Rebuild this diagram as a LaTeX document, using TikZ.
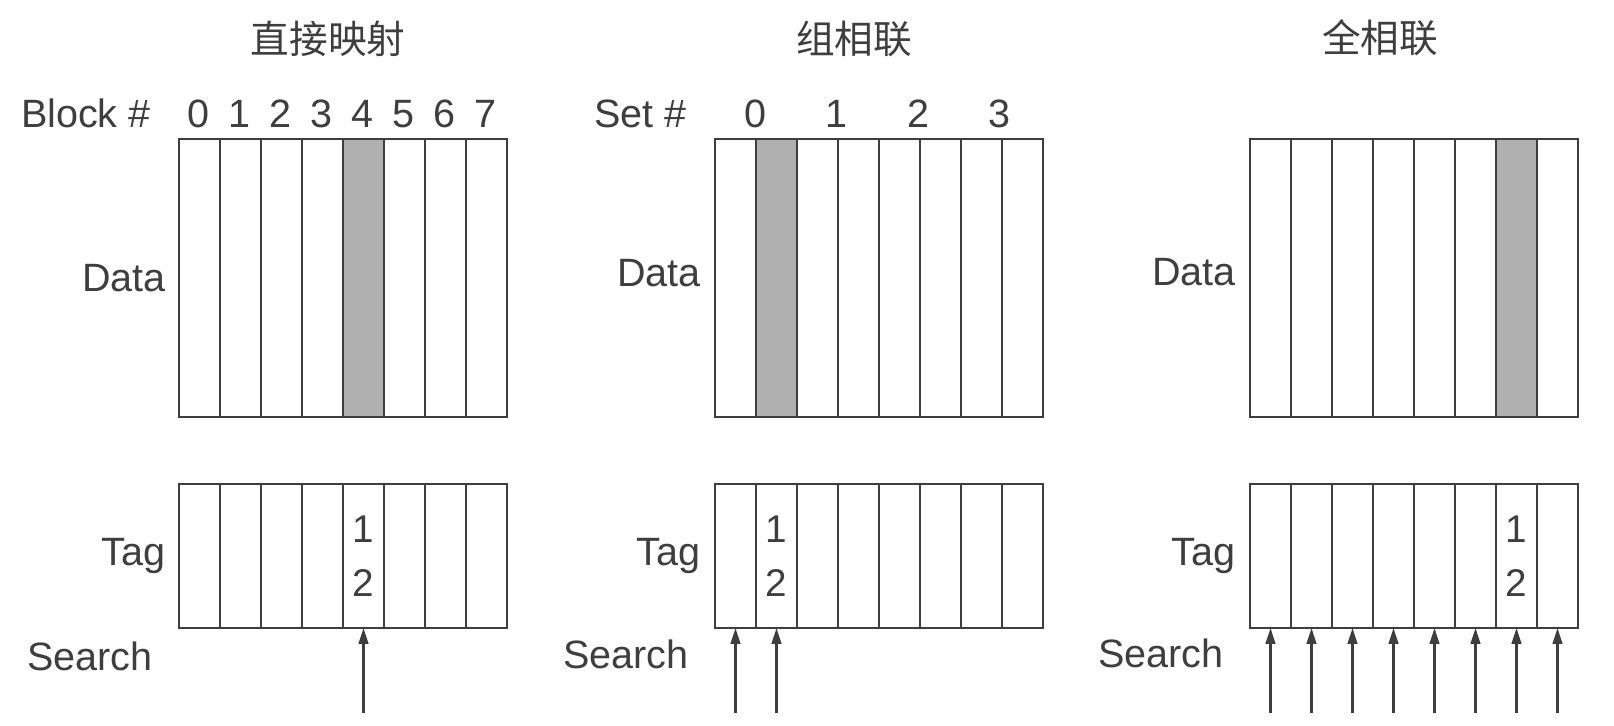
\documentclass[tikz,border=0pt]{standalone}
\usepackage{fontspec}
\setmainfont{Liberation Sans}
\newfontfamily\cjk{Noto Sans CJK SC}
\usepackage{tikz}
\usetikzlibrary{arrows.meta, positioning}
\definecolor{ink}{RGB}{62, 62, 62}
\definecolor{hitgray}{RGB}{176, 176, 176}

\begin{document}
\begin{tikzpicture}[
    x=0.02cm, y=-0.02cm,
    cell/.style={rectangle, draw=ink, line width=1.3pt, outer sep=0pt, inner sep=0pt, minimum width=0.82cm},
    datacell/.style={cell, minimum height=5.56cm},
    tagcell/.style={cell, minimum height=2.88cm, text=ink, align=center, font=\fontsize{22}{31}\selectfont},
    hit/.style={fill=hitgray},
    rowlabel/.style={text=ink, inner sep=0pt, font=\fontsize{22.5}{26}\selectfont},
    headtitle/.style={text=ink, inner sep=0pt, font=\cjk\fontsize{22}{26}\selectfont},
    searcharrow/.style={-{Triangle[length=9pt, width=5.5pt]}, draw=ink, line width=1.2pt}
]
\useasboundingbox (0,0) rectangle (1614,725);

% direct mapped
\node[headtitle] (Lh) at (328,39) {直接映射};
\node[rowlabel, anchor=base east] (Lblk) at (151,127) {Block \#};
\foreach \i in {0,...,7} {
  \node[datacell] (Ld\i) at (199.5+41*\i,278) {};
  \node[tagcell] (Lt\i) at (199.5+41*\i,556) {};
  \node[rowlabel, anchor=base] (Lb\i) at (198+41*\i,127) {\i};
}
\node[datacell, hit] at (Ld4) {};
\node[tagcell] at (Lt4) {1\\2};
\node[rowlabel, left=0.26cm of Ld0.west] (Ldata) {Data};
\node[rowlabel, left=0.26cm of Lt0.west] (Ltag) {Tag};
\node[rowlabel, anchor=base east] (Ls) at (153,670) {Search};
\coordinate (La4) at (Lt4.south |- 0,713);
\draw[searcharrow] (La4) -- (Lt4.south);

% set associative
\node[headtitle] (Mh) at (854,39) {组相联};
\node[rowlabel, anchor=base east] (Mset) at (687,127) {Set \#};
\foreach \i in {0,...,7} {
  \node[datacell] (Md\i) at (735.5+41*\i,278) {};
  \node[tagcell] (Mt\i) at (735.5+41*\i,556) {};
}
\foreach \k in {0,...,3}
  \node[rowlabel, anchor=base] (Mb\k) at (755+81.5*\k,127) {\k};
\node[datacell, hit] at (Md1) {};
\node[tagcell] at (Mt1) {1\\2};
\node[rowlabel, left=0.28cm of Md0.west, yshift=0.1cm] (Mdata) {Data};
\node[rowlabel, left=0.28cm of Mt0.west] (Mtag) {Tag};
\node[rowlabel, anchor=base east] (Ms) at (689,668) {Search};
\foreach \i in {0,1} {
  \coordinate (Ma\i) at (Mt\i.south |- 0,713);
  \draw[searcharrow] (Ma\i) -- (Mt\i.south);
}

% fully associative
\node[headtitle] (Rh) at (1380,38) {全相联};
\foreach \i in {0,...,7} {
  \node[datacell] (Rd\i) at (1270.5+41*\i,278) {};
  \node[tagcell] (Rt\i) at (1270.5+41*\i,556) {};
  \coordinate (Ra\i) at (Rt\i.south |- 0,713);
  \draw[searcharrow] (Ra\i) -- (Rt\i.south);
}
\node[datacell, hit] at (Rd6) {};
\node[tagcell] at (Rt6) {1\\2};
\node[rowlabel, left=0.28cm of Rd0.west, yshift=0.12cm] (Rdata) {Data};
\node[rowlabel, left=0.28cm of Rt0.west] (Rtag) {Tag};
\node[rowlabel, anchor=base east] (Rs) at (1224,667) {Search};
\end{tikzpicture}
\end{document}
